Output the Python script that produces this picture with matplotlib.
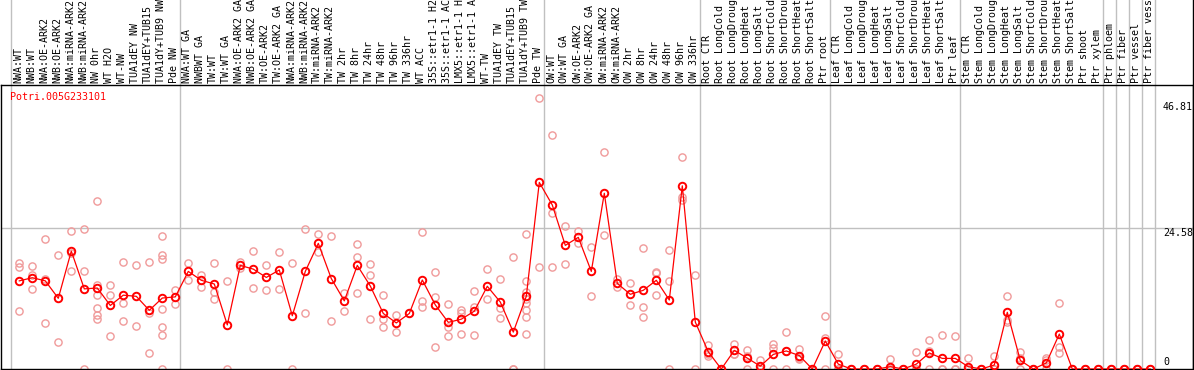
import matplotlib
matplotlib.use("Agg")
import matplotlib.pyplot as plt
import matplotlib.transforms as mtransforms
from matplotlib.lines import Line2D

# sample labels as shown on the chart (cut at 14 chars)
labels = [
    "NWA:WT", "NWB:WT", "NWA:OE-ARK2", "NWB:OE-ARK2", "NWA:miRNA-ARK2", "NWB:miRNA-ARK2",
    "NW 0hr", "WT H2O", "WT-NW", "TUA1dEY NW", "TUA1dEY+TUB15", "TUA1dY+TUB9 NW", "Pde NW",
    "NWA:WT GA", "NWBWT GA", "TW:WT", "TW:WT GA", "NWA:OE-ARK2 GA", "NWB:OE-ARK2 GA",
    "TW:OE-ARK2", "TW:OE-ARK2 GA", "NWA:miRNA-ARK2", "NWB:miRNA-ARK2", "TW:miRNA-ARK2",
    "TW:miRNA-ARK2", "TW 2hr", "TW 8hr", "TW 24hr", "TW 48hr", "TW 96hr", "TW 336hr",
    "WT ACC", "35S::etr1-1 H2", "35S::etr1-1 AC", "LMX5::etr1-1 H", "LMX5::etr1-1 A",
    "WT-TW", "TUA1dEY TW", "TUA1dEY+TUB15", "TUA1dY+TUB9 TW", "Pde TW",
    "OW:WT", "OW:WT GA", "OW:OE-ARK2", "OW:OE-ARK2 GA", "OW:miRNA-ARK2", "OW:miRNA-ARK2",
    "OW 2hr", "OW 8hr", "OW 24hr", "OW 48hr", "OW 96hr", "OW 336hr",
    "Root CTR", "Root LongCold", "Root LongDroug", "Root LongHeat", "Root LongSalt",
    "Root ShortCold", "Root ShortDrou", "Root ShortHeat", "Root ShortSalt", "Ptr root",
    "Leaf CTR", "Leaf LongCold", "Leaf LongDroug", "Leaf LongHeat", "Leaf LongSalt",
    "Leaf ShortCold", "Leaf ShortDrou", "Leaf ShortHeat", "Leaf ShortSalt", "Ptr leaf",
    "Stem CTR", "Stem LongCold", "Stem LongDroug", "Stem LongHeat", "Stem LongSalt",
    "Stem ShortCold", "Stem ShortDrou", "Stem ShortHeat", "Stem ShortSalt", "Ptr shoot",
    "Ptr xylem", "Ptr phloem", "Ptr fiber", "Ptr vessel", "Ptr fiber vess",
]

# first index of each sample group
group_starts = [0, 13, 41, 53, 63, 73, 84, 85, 86, 87, 88]

means = [
    15.4, 15.95, 15.4, 12.35, 20.6, 14.0, 14.15, 11.1, 12.9, 12.7, 10.25, 12.4, 12.6,
    17.05, 15.5, 14.85, 7.7, 18.1, 17.45, 16.0, 17.3, 9.3, 17.05, 21.95, 15.8, 11.9,
    18.1, 14.5, 9.7, 8.05, 9.7, 15.55, 11.2, 8.15, 8.7, 10.1, 14.45, 11.7, 6.45, 12.7, 32.6,
    28.65, 21.6, 23.0, 17.05, 30.7, 14.95, 13.05, 13.75, 15.5, 12.05, 32.0, 8.2,
    3.0, 0, 3.25, 1.9, 0.5, 2.55, 3.15, 2.35, 0, 4.9,
    0.85, 0, 0, 0, 0.4, 0, 0.85, 2.8, 1.85, 1.85,
    0.4, 0, 0.7, 9.9, 1.5, 0, 1.05, 6.1, 0, 0, 0,
    0, 0, 0, 0,
]

replicates = [
    [18.46, 17.9, 10.1], [18.0, 16.5, 14.0], [22.7, 15.7, 8.0], [19.9, 4.7],
    [24.1, 20.2, 17.2], [24.5, 17.2, 0], [29.4, 14.7, 12.9, 10.6, 9.4, 8.7],
    [14.7, 12.9, 5.8], [18.7, 11.6, 8.3], [18.1, 7.5], [18.7, 9.7, 2.8],
    [23.2, 20.0, 19.3, 10.5, 7.3, 5.9, 0], [13.8, 11.3],
    [18.5, 15.6], [16.5, 14.3], [18.5, 13.5, 12.3], [15.3, 0], [18.75, 17.6],
    [20.6, 14.1], [18.1, 13.8], [20.4, 14.0], [18.5, 0], [24.5, 9.7], [23.6, 20.4],
    [23.2, 8.3], [13.2, 10.1], [21.8, 19.5, 13.2], [18.3, 16.4, 8.7], [13.0, 8.7, 7.3],
    [9.4, 6.5], [9.7], [23.9, 11.8, 10.9], [16.9, 12.5, 3.8], [11.3, 7.3, 5.8],
    [10.3, 9.8, 6.1], [13.6, 10.9, 5.9], [17.4, 12.3], [15.7, 10.6, 8.85], [19.5, 0, 0],
    [23.6, 15.3, 13.5, 12.3, 11.5, 10.3, 9.1, 6.1], [47.3, 17.9],
    [40.8, 27.2, 17.9], [25.0, 18.3], [24.1, 22.1], [21.4, 12.7], [37.9, 23.4],
    [15.7, 14.4], [15.0, 11.2], [21.1, 10.9, 9.0], [17.0, 16.7, 12.9], [20.8, 15.3, 0],
    [37.0, 30.1, 29.5], [16.5, 0],
    [4.2, 2.6, 2.3], [0, 0, 0], [4.4, 2.7, 2.65], [3.4, 2.3, 0], [1.6, 0, 0],
    [4.4, 3.6, 0], [6.4, 3.1, 0], [3.5, 1.7, 1.85], [0, 0, 0], [9.3, 5.4, 0],
    [2.6, 0, 0], [0, 0, 0], [0, 0, 0], [0, 0, 0], [1.7, 0, 0], [0, 0, 0], [2.9, 0, 0],
    [5.0, 3.2, 0], [5.9, 0, 0], [5.8, 0, 0],
    [2.0, 0, 0], [0, 0, 0], [2.3, 0, 0], [12.7, 8.6, 8.2], [2.9, 2.0, 0], [0, 0, 0],
    [1.9, 1.5, 0], [11.6, 3.8, 2.8], [0, 0, 0], [0, 0, 0], [0, 0, 0],
    [0, 0, 0], [0, 0, 0], [0, 0, 0], [0, 0, 0],
]

gene = "Potri.005G233101"
y_max = 46.81
y_mid = 24.58

W, H = 1194, 370
fig = plt.figure(figsize=(W / 100, H / 100), dpi=100)
fig.patch.set_facecolor("white")
ax = fig.add_axes([1 / W, 1 / H, 1192 / W, 284 / H])

px = 13.0  # pixels per sample
ax.set_xlim(-18.3 / px, (1192 - 18.3) / px)
ax.set_ylim(0, y_max * 1.06)
ax.set_xticks([])
ax.set_yticks([])
for s in ax.spines.values():
    s.set_color("black")
    s.set_linewidth(1.0)

mono = "DejaVu Sans Mono"
grid_c = "#c0c0c0"
top_ext = (H - 1) / 284.0

# group separators run through the label area too
for g in group_starts:
    ax.axvline(g - 0.64, ymin=0, ymax=top_ext, color=grid_c, lw=1.0, clip_on=False, zorder=0)
ax.axhline(y_mid, color=grid_c, lw=1.0, zorder=0)

# right frame line continues up through the label area
fig.add_artist(Line2D([1192.5 / W, 1192.5 / W], [0, 1], color="black", lw=1.0))

# replicate points
for i, reps in enumerate(replicates):
    ax.plot([i] * len(reps), reps, "o", mfc="none", mec="#f09a9a", ms=5.2, mew=1.0,
            zorder=2)

# mean line
xs = list(range(len(means)))
ax.plot(xs, means, "-", color="red", lw=0.9, zorder=3)
ax.plot(xs, means, "o", mfc="none", mec="red", ms=5.4, mew=1.4, zorder=4)

# sample labels above the plot
trans = mtransforms.blended_transform_factory(ax.transData, ax.transAxes)
for i, lab in enumerate(labels):
    ax.text(i - 0.08, 1 + 2 / 284, lab, rotation=90, ha="center", va="bottom",
            transform=trans, fontsize=7.2, family=mono, color="black", clip_on=False)

# gene name and value labels
ytrans = mtransforms.blended_transform_factory(ax.transAxes, ax.transData)
ax.text(9 / 1192, 47.45, gene, transform=ytrans, ha="left", va="center",
        fontsize=7.2, family=mono, color="red")
lx = (1163 - 1) / 1192
ax.text(lx, 45.8, f"{y_max:.2f}", transform=ytrans, ha="left", va="center",
        fontsize=7.2, family=mono, color="black")
ax.text(lx, 23.8, f"{y_mid:.2f}", transform=ytrans, ha="left", va="center",
        fontsize=7.2, family=mono, color="black")
ax.text(lx, 1.3, "0", transform=ytrans, ha="left", va="center",
        fontsize=7.2, family=mono, color="black")

fig.savefig("out.png", dpi=100, facecolor="white")
